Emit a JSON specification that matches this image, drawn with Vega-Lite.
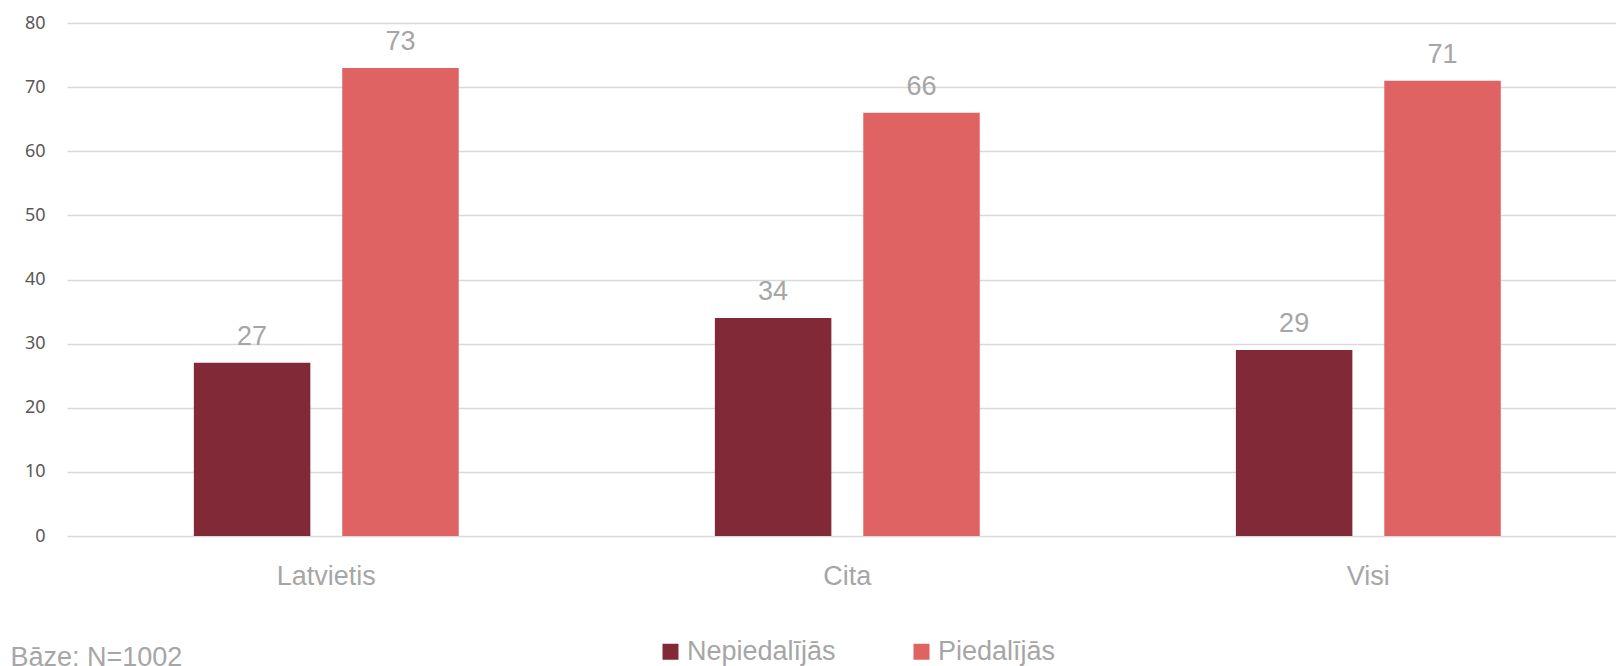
{
  "$schema": "https://vega.github.io/schema/vega-lite/v6.json",
  "autosize": {"type": "none"},
  "padding": {"left": 67, "top": 23, "right": 0, "bottom": 130},
  "width": 1549,
  "height": 513,
  "background": "white",
  "data": {
    "values": [
      {"grupa": "Latvietis", "atbilde": "Nepiedalījās", "vertiba": 27},
      {"grupa": "Latvietis", "atbilde": "Piedalījās", "vertiba": 73},
      {"grupa": "Cita", "atbilde": "Nepiedalījās", "vertiba": 34},
      {"grupa": "Cita", "atbilde": "Piedalījās", "vertiba": 66},
      {"grupa": "Visi", "atbilde": "Nepiedalījās", "vertiba": 29},
      {"grupa": "Visi", "atbilde": "Piedalījās", "vertiba": 71}
    ]
  },
  "encoding": {
    "x": {
      "field": "grupa",
      "type": "nominal",
      "sort": ["Latvietis", "Cita", "Visi"],
      "scale": {"paddingInner": 0.4916, "paddingOuter": 0.2323, "align": 0.524},
      "axis": {
        "title": "Bāze: N=1002",
        "titleAnchor": "start",
        "titleAlign": "left",
        "titleBaseline": "alphabetic",
        "titleX": -57,
        "titleY": 129,
        "titleFont": "Liberation Sans",
        "titleFontSize": 27,
        "titleFontWeight": "normal",
        "titleColor": "#a6a6a6",
        "labelAngle": 0,
        "ticks": false,
        "tickSize": 0,
        "domain": false,
        "grid": false,
        "labelPadding": 27,
        "labelFont": "Liberation Sans",
        "labelFontSize": 27,
        "labelColor": "#a6a6a6"
      }
    },
    "xOffset": {
      "field": "atbilde",
      "type": "nominal",
      "sort": ["Nepiedalījās", "Piedalījās"],
      "scale": {"paddingInner": 0.215, "paddingOuter": 0}
    },
    "y": {
      "field": "vertiba",
      "type": "quantitative",
      "scale": {"domain": [0, 80], "nice": false},
      "axis": {
        "title": null,
        "values": [0, 10, 20, 30, 40, 50, 60, 70, 80],
        "ticks": false,
        "tickSize": 0,
        "domain": false,
        "grid": true,
        "gridColor": "#d9d9d9",
        "gridWidth": 1.5,
        "labelPadding": 22,
        "labelFont": "Noto Sans",
        "labelFontSize": 18,
        "labelColor": "#595959"
      }
    }
  },
  "layer": [
    {
      "mark": {"type": "bar"},
      "encoding": {
        "color": {
          "field": "atbilde",
          "type": "nominal",
          "sort": ["Nepiedalījās", "Piedalījās"],
          "scale": {"domain": ["Nepiedalījās", "Piedalījās"], "range": ["#822937", "#E06363"]},
          "legend": {
            "title": null,
            "orient": "none",
            "direction": "horizontal",
            "legendX": 590,
            "legendY": 615,
            "symbolType": "square",
            "symbolSize": 256,
            "symbolStrokeWidth": 0,
            "symbolOpacity": 1,
            "labelFont": "Liberation Sans",
            "labelFontSize": 27,
            "labelColor": "#a6a6a6",
            "labelOffset": 3,
            "columnPadding": 72,
            "labelLimit": 400
          }
        }
      }
    },
    {
      "mark": {
        "type": "text",
        "baseline": "alphabetic",
        "dy": -18,
        "font": "Liberation Sans",
        "fontSize": 27,
        "color": "#a6a6a6"
      },
      "encoding": {
        "text": {"field": "vertiba", "type": "quantitative"}
      }
    }
  ],
  "config": {"view": {"stroke": null}}
}
